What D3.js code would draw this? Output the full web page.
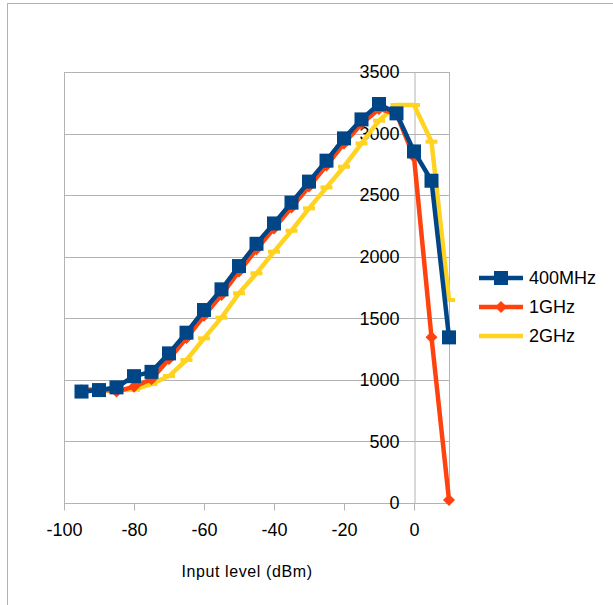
<!DOCTYPE html>
<html lang="en">
<head>
<meta charset="UTF-8">
<title>Output vs input level</title>
<script src="https://d3js.org/d3.v7.min.js"></script>
<style>
  body { margin: 0; background: #fff; }
  svg text { font-family: "Liberation Sans", Arial, sans-serif; fill: #000; }
</style>
</head>
<body>
<div id="chart"></div>
<script>
// input level in dBm
const inputLevel = [-95, -90, -85, -80, -75, -70, -65, -60, -55, -50, -45, -40, -35, -30, -25, -20, -15, -10, -5, 0, 5, 10];

const mhz400 = [905, 917, 939, 1030, 1065, 1215, 1383, 1567, 1735, 1924, 2105, 2270, 2439, 2610, 2780, 2961, 3115, 3240, 3164, 2855, 2617, 1345];
const ghz1   = [915, 925, 905, 945, 1005, 1170, 1340, 1520, 1690, 1880, 2060, 2230, 2400, 2570, 2740, 2920, 3080, 3200, 3160, 2810, 1345, 25];
const ghz2   = [905, 912, 918, 920, 966, 1031, 1161, 1337, 1505, 1703, 1865, 2041, 2211, 2393, 2563, 2731, 2920, 3105, 3232, 3232, 2934, 1648];

const seriesNames = ["400MHz", "1GHz", "2GHz"];
const xTicks = [-100, -80, -60, -40, -20, 0];
const yTicks = [0, 500, 1000, 1500, 2000, 2500, 3000, 3500];

const W = 613, H = 605;
const plot = { left: 64, right: 449, top: 72, bottom: 503 };

const svg = d3.select("#chart").append("svg")
  .attr("width", W).attr("height", H);

// outer frame (runs past the picture)
svg.append("rect")
  .attr("x", 7.5).attr("y", 3.5)
  .attr("width", 800).attr("height", 800)
  .attr("fill", "none").attr("stroke", "#b3b3b3");

const x = d3.scaleLinear().domain([-100, 10]).range([plot.left, plot.right]);
const y = d3.scaleLinear().domain([0, 3500]).range([plot.bottom, plot.top]);

// horizontal grid
svg.append("g").selectAll("line").data(yTicks).join("line")
  .attr("x1", plot.left).attr("x2", plot.right)
  .attr("y1", d => Math.round(y(d)) + 0.5).attr("y2", d => Math.round(y(d)) + 0.5)
  .attr("stroke", "#b3b3b3");

// plot sides
[plot.left, plot.right].forEach(px => {
  svg.append("line")
    .attr("x1", px + 0.5).attr("x2", px + 0.5)
    .attr("y1", plot.top).attr("y2", plot.bottom)
    .attr("stroke", "#b3b3b3");
});

// x axis
const xAxis = svg.append("g")
  .attr("transform", `translate(0,${Math.round(y(0)) + 0.5})`)
  .call(d3.axisBottom(x).tickValues(xTicks).tickFormat(d => String(d))
    .tickSize(7).tickPadding(13).tickSizeOuter(0));
xAxis.select(".domain").remove();
xAxis.selectAll(".tick line").attr("stroke", "#b3b3b3");
xAxis.selectAll("text").style("font-size", "18px");

// y axis sits at 0 dBm
const yAxis = svg.append("g")
  .attr("transform", `translate(${Math.round(x(0)) + 0.5},0)`)
  .call(d3.axisLeft(y).tickValues(yTicks).tickFormat(d => String(d))
    .tickSize(0).tickPadding(15));
yAxis.select(".domain").attr("stroke", "#b3b3b3");
yAxis.selectAll("text").style("font-size", "18px");

svg.append("text")
  .attr("x", 247).attr("y", 577)
  .attr("text-anchor", "middle")
  .style("font-size", "16px")
  .style("letter-spacing", "0.6px")
  .text("Input level (dBm)");

const colors = ["#004586", "#ff420e", "#ffd320"];
const allSeries = [mhz400, ghz1, ghz2];

const line = d3.line().x((d, i) => x(inputLevel[i])).y(d => y(d));

function drawMarker(g, kind, cx, cy, color) {
  if (kind === 0) {
    g.append("rect").attr("x", cx - 7).attr("y", cy - 7)
      .attr("width", 14).attr("height", 14).attr("fill", color);
  } else if (kind === 1) {
    g.append("path")
      .attr("d", `M${cx},${cy - 6}L${cx + 6},${cy}L${cx},${cy + 6}L${cx - 6},${cy}Z`)
      .attr("fill", color);
  } else {
    g.append("rect").attr("x", cx - 6).attr("y", cy - 2)
      .attr("width", 12).attr("height", 4).attr("fill", color);
  }
}

// yellow first, blue on top
[2, 1, 0].forEach(k => {
  const g = svg.append("g");
  g.append("path")
    .datum(allSeries[k])
    .attr("d", line)
    .attr("fill", "none")
    .attr("stroke", colors[k])
    .attr("stroke-width", 4.5)
    .attr("stroke-linejoin", "round");
  allSeries[k].forEach((v, i) => drawMarker(g, k, x(inputLevel[i]), y(v), colors[k]));
});

// legend
const legendY = [278, 307, 336];
seriesNames.forEach((name, k) => {
  const g = svg.append("g");
  g.append("line")
    .attr("x1", 479).attr("x2", 523)
    .attr("y1", legendY[k]).attr("y2", legendY[k])
    .attr("stroke", colors[k]).attr("stroke-width", 4.5);
  drawMarker(g, k, 501, legendY[k], colors[k]);
  g.append("text")
    .attr("x", 529).attr("y", legendY[k])
    .attr("dy", "0.35em")
    .style("font-size", "18px")
    .text(name);
});
</script>
</body>
</html>
